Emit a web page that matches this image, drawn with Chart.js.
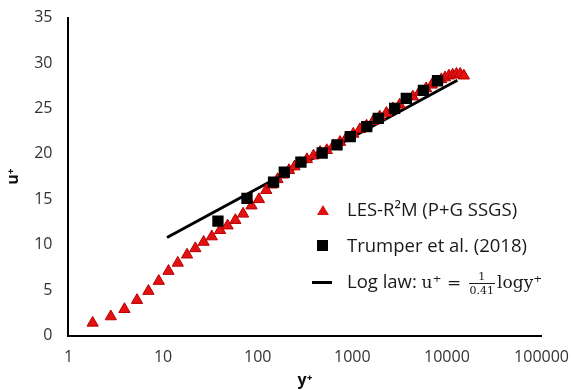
<!DOCTYPE html>
<html>
<head>
<meta charset="utf-8">
<script src="https://cdn.jsdelivr.net/npm/chart.js@4.4.1/dist/chart.umd.min.js"></script>
<style>
    body { margin: 0; background: #fff; }
    #wrap { position: relative; width: 573px; height: 390px; }
    #legend { position: absolute; left: 300px; top: 194px; font-family: 'Open Sans', sans-serif; font-size: 18.5px; color: #1a1a1a; }
    .item { position: relative; height: 36px; line-height: 30px; padding-left: 47px; white-space: nowrap; }
    .sym { position: absolute; left: 16px; top: 9px; }
    .tri { width: 0; height: 0; border-left: 6px solid transparent; border-right: 6px solid transparent; border-bottom: 10px solid #e01010; top: 11px; left: 17px; }
    .sq { width: 11px; height: 11px; background: #000; top: 10px; left: 17px; }
    .ln { width: 20px; height: 3px; background: #000; top: 15px; left: 12px; }
    .math { font-family: 'DejaVu Serif', serif; font-size: 17px; }
    .frac { display: inline-block; vertical-align: middle; text-align: center; font-size: 11px; line-height: 13px; margin: 0 2px; }
    .frac span { display: block; }
    .frac .den { border-top: 1px solid #1a1a1a; padding: 0 1px; }
</style>
</head>
<body>
<div id="wrap">
    <canvas id="chart" width="573" height="390"></canvas>
    <div id="legend"></div>
</div>
<script>
// LES-R2M (P+G SSGS) profile
const lesX = [1.8, 2.8, 3.9, 5.3, 7.0, 9.0, 11.4, 14.3, 17.9, 21.9, 26.8, 32.7, 40, 48, 58, 70, 86, 103, 123,
    141, 162, 186, 214, 245, 282, 331, 389, 457, 537, 631, 741, 871, 1023, 1202, 1413, 1660, 1950, 2291,
    2692, 3162, 3715, 4365, 5129, 6026, 6918, 7762, 8710, 9550, 10500, 11500, 12600, 13800, 15100];
const lesY = [1.4, 2.1, 2.9, 3.9, 4.9, 6.0, 7.1, 8.0, 8.9, 9.6, 10.3, 10.9, 11.6, 12.1, 12.7, 13.4, 14.3, 15.0, 16.0,
    16.6, 17.2, 17.7, 18.2, 18.6, 19.0, 19.4, 19.8, 20.2, 20.4, 20.9, 21.3, 21.8, 22.2, 22.7, 23.1, 23.6, 24.1, 24.5,
    25.0, 25.4, 25.9, 26.3, 26.8, 27.2, 27.6, 27.9, 28.2, 28.4, 28.6, 28.7, 28.8, 28.8, 28.6];

// Trumper et al. (2018)
const trumperX = [38, 77, 147, 191, 286, 480, 689, 951, 1420, 1880, 2800, 3720, 5640, 7950];
const trumperY = [12.6, 15.1, 16.9, 18.0, 19.1, 20.1, 21.0, 21.9, 23.0, 23.9, 25.0, 26.1, 27.0, 28.05];

// log law segment end points
const lawX = [11, 12900];
const lawY = [10.8, 28.1];

const xTicks = [1, 10, 100, 1000, 10000, 100000];
const yTicks = [0, 5, 10, 15, 20, 25, 30, 35];
const seriesNames = ['LES-R\u00B2M (P+G SSGS)', 'Trumper et al. (2018)', 'Log law: '];

const toPts = (xs, ys) => xs.map((x, i) => ({ x: x, y: ys[i] }));
const tickFont = { family: 'Open Sans', size: 16 };

new Chart(document.getElementById('chart'), {
    type: 'scatter',
    data: {
        datasets: [
            {
                label: seriesNames[2],
                data: toPts(lawX, lawY),
                showLine: true,
                borderColor: '#000',
                borderWidth: 3,
                pointRadius: 0,
                order: 3
            },
            {
                label: seriesNames[0],
                data: toPts(lesX, lesY),
                pointStyle: 'triangle',
                pointRadius: 6.5,
                backgroundColor: '#e21212',
                borderColor: '#b80000',
                borderWidth: 1,
                order: 2
            },
            {
                label: seriesNames[1],
                data: toPts(trumperX, trumperY),
                pointStyle: 'rect',
                pointRadius: 8,
                backgroundColor: '#000',
                borderColor: '#000',
                borderWidth: 0,
                order: 1
            }
        ]
    },
    options: {
        responsive: false,
        animation: false,
        layout: { padding: { left: 0, right: -17, top: 0, bottom: 0 } },
        plugins: { legend: { display: false }, tooltip: { enabled: false } },
        scales: {
            x: {
                type: 'logarithmic',
                min: 1,
                max: 100000,
                afterBuildTicks: (scale) => { scale.ticks = xTicks.map(v => ({ value: v })); },
                ticks: { font: tickFont, color: '#333', padding: 4, maxRotation: 0, autoSkip: false, callback: (v) => String(v) },
                grid: { display: false },
                border: { display: true, color: '#000', width: 2 },
                title: { display: true, text: 'y\u207A', font: { family: 'Open Sans', size: 16, weight: 'bold' }, color: '#111', padding: { top: 0, bottom: 0 } }
            },
            y: {
                min: 0,
                max: 35,
                afterBuildTicks: (scale) => { scale.ticks = yTicks.map(v => ({ value: v })); },
                ticks: { font: tickFont, color: '#333', padding: 8 },
                grid: { display: false },
                border: { display: true, color: '#000', width: 2 },
                title: { display: true, text: 'u\u207A', font: { family: 'Open Sans', size: 16, weight: 'bold' }, color: '#111', padding: { top: 4, bottom: 3 } }
            }
        }
    }
});

// legend with the log law formula
document.getElementById('legend').innerHTML = `
    <div class="item"><span class="sym tri"></span>${seriesNames[0]}</div>
    <div class="item"><span class="sym sq"></span>${seriesNames[1]}</div>
    <div class="item"><span class="sym ln"></span>${seriesNames[2]}<span class="math">u\u207A = <span class="frac"><span>1</span><span class="den">0.41</span></span>logy\u207A</span></div>
`;
</script>
</body>
</html>
